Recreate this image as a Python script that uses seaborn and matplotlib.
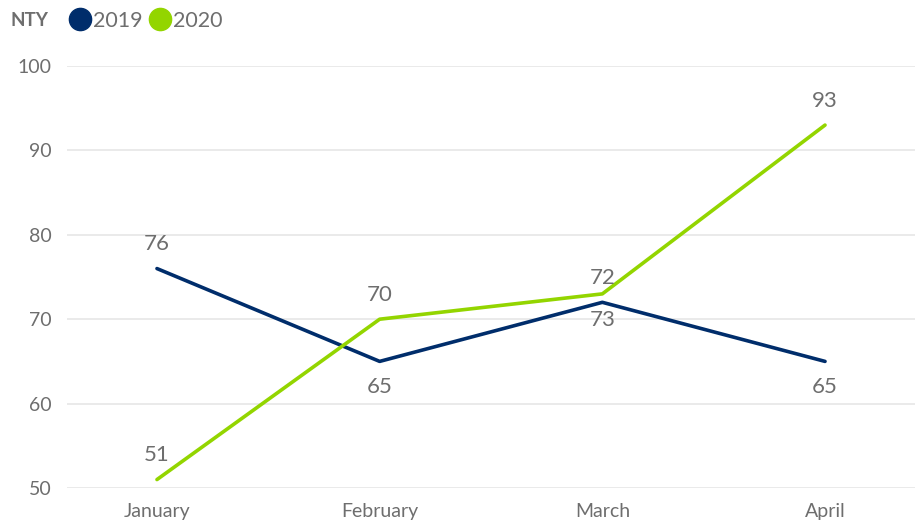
import matplotlib
matplotlib.use("Agg")
import matplotlib.pyplot as plt
import seaborn as sns
import pandas as pd
from matplotlib.lines import Line2D

months = ["January", "February", "March", "April"]
values_2019 = [76, 65, 72, 65]
values_2020 = [51, 70, 73, 93]
label_pos_2019 = ["above", "below", "above", "below"]
label_pos_2020 = ["above", "above", "below", "above"]
y_ticks = [50, 60, 70, 80, 90, 100]

colors = {"2019": "#002d6b", "2020": "#93d500"}
text_color = "#6e6e6e"

sns.set_theme(style="white")
plt.rcParams["font.family"] = ["Lato", "DejaVu Sans"]

df = pd.DataFrame({
    "month": months * 2,
    "x": list(range(len(months))) * 2,
    "value": values_2019 + values_2020,
    "year": ["2019"] * len(months) + ["2020"] * len(months),
})

fig = plt.figure(figsize=(9.15, 5.25), dpi=100)
ax = fig.add_axes([67 / 915, 37 / 525, 848 / 915, 422 / 525])

sns.lineplot(data=df, x="x", y="value", hue="year", palette=colors,
             linewidth=2.6, ax=ax, legend=False, sort=False)

for vals, pos, yr in [(values_2019, label_pos_2019, "2019"), (values_2020, label_pos_2020, "2020")]:
    for i, (v, p) in enumerate(zip(vals, pos)):
        off = 17.5 if p == "above" else -18.5
        ax.annotate(str(v), (i, v), xytext=(0, off), textcoords="offset points",
                    ha="center", va="center", fontsize=16, color=text_color)

ax.set_xlim(-0.404, 3.404)
ax.set_ylim(50, 100)
ax.set_yticks(y_ticks)
ax.set_xticks(range(len(months)))
ax.set_xticklabels(months)
ax.set_xlabel("")
ax.set_ylabel("")
ax.grid(axis="y", color="#e6e6e6", linewidth=1.2)
ax.grid(axis="x", visible=False)
ax.set_axisbelow(True)
for s in ax.spines.values():
    s.set_visible(False)
ax.tick_params(axis="both", length=0, labelsize=14, colors=text_color)
ax.tick_params(axis="y", pad=11)
ax.tick_params(axis="x", pad=11)

fig.text(10 / 915, 1 - 21 / 525, "NTY", fontsize=13.5, fontweight="bold",
         color=text_color, va="center", ha="left")
handles = [Line2D([], [], marker="o", linestyle="", markersize=16,
                  markerfacecolor=colors[y], markeredgecolor=colors[y]) for y in ["2019", "2020"]]
leg = fig.legend(handles, ["2019", "2020"], loc="center left",
                 bbox_to_anchor=(66 / 915, 1 - 21 / 525), ncol=2, frameon=False,
                 handletextpad=-0.05, columnspacing=0.15, fontsize=15.5,
                 borderaxespad=0, borderpad=0, handlelength=1.3)
for t in leg.get_texts():
    t.set_color(text_color)

fig.savefig("out.png", dpi=100)
